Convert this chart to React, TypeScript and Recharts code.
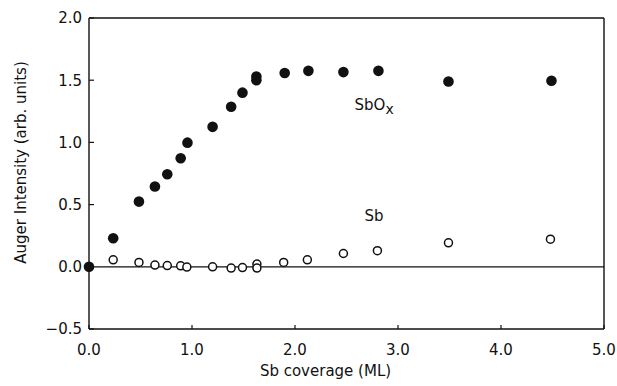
import React from 'react';
import { ScatterChart, Scatter, XAxis, YAxis, ReferenceLine, ReferenceDot } from 'recharts';

const xTicks = [0, 1, 2, 3, 4, 5];
const yTicks = [-0.5, 0, 0.5, 1, 1.5, 2];

const sbOxCoverage = [0, 0.235, 0.485, 0.64, 0.76, 0.89, 0.956, 1.2, 1.38, 1.49, 1.625, 1.625, 1.9, 2.13, 2.47, 2.81, 3.49, 4.49];
const sbOxIntensity = [0, 0.23, 0.524, 0.645, 0.744, 0.872, 0.998, 1.125, 1.287, 1.4, 1.5, 1.53, 1.558, 1.575, 1.565, 1.575, 1.49, 1.495];

const sbCoverage = [0.235, 0.485, 0.64, 0.76, 0.89, 0.95, 1.2, 1.38, 1.49, 1.63, 1.63, 1.89, 2.12, 2.47, 2.8, 3.49, 4.48];
const sbIntensity = [0.056, 0.035, 0.014, 0.01, 0.008, -0.002, 0.0, -0.01, -0.006, 0.022, -0.01, 0.035, 0.056, 0.107, 0.13, 0.193, 0.222];

const sbOxData = sbOxCoverage.map((x, i) => ({ x, y: sbOxIntensity[i] }));
const sbData = sbCoverage.map((x, i) => ({ x, y: sbIntensity[i] }));

const FONT = '"DejaVu Sans", sans-serif';
const INK = '#111';

const fmt = (v: number) => v.toFixed(1).replace('-', '\u2212');

const FilledDot = (p: any) => <circle cx={p.cx} cy={p.cy} r={5.3} fill={INK} />;
const OpenDot = (p: any) => <circle cx={p.cx} cy={p.cy} r={4} fill="#fff" stroke={INK} strokeWidth={1.5} />;

export default function App() {
  return (
    <div style={{ position: 'absolute', left: 0, top: 0, width: 617, height: 386, background: '#fff' }}>
      <ScatterChart width={617} height={386} margin={{ top: 14, right: 3, bottom: 27, left: 10 }}>
        <XAxis
          xAxisId="top"
          orientation="top"
          type="number"
          dataKey="x"
          domain={[0, 5]}
          ticks={xTicks}
          height={4}
          tick={false}
          tickSize={-4}
          axisLine={{ stroke: INK, strokeWidth: 1.4 }}
          tickLine={{ stroke: INK, strokeWidth: 1.2 }}
        />
        <XAxis
          xAxisId="bottom"
          orientation="bottom"
          type="number"
          dataKey="x"
          domain={[0, 5]}
          ticks={xTicks}
          height={30}
          tickFormatter={fmt}
          tickSize={-4}
          tickMargin={19}
          axisLine={{ stroke: INK, strokeWidth: 1.4 }}
          tickLine={{ stroke: INK, strokeWidth: 1.2 }}
          tick={{ fill: INK, fontFamily: FONT, fontSize: 15 }}
          label={{
            content: (props: any) => {
              const vb = props.viewBox;
              return (
                <text x={vb.x + vb.width / 2 - 21} y={vb.y + 47} textAnchor="middle" fill={INK} fontFamily={FONT} fontSize={15}>
                  Sb coverage (ML)
                </text>
              );
            },
          }}
        />
        <YAxis
          yAxisId="left"
          orientation="left"
          type="number"
          dataKey="y"
          domain={[-0.5, 2]}
          ticks={yTicks}
          width={79}
          tickFormatter={fmt}
          tickSize={-5}
          tickMargin={12}
          axisLine={{ stroke: INK, strokeWidth: 1.4 }}
          tickLine={{ stroke: INK, strokeWidth: 1.2 }}
          tick={{ fill: INK, fontFamily: FONT, fontSize: 15 }}
          label={{
            content: (props: any) => {
              const vb = props.viewBox;
              const cx = 21;
              const cy = vb.y + vb.height / 2 - 11;
              return (
                <text
                  x={cx}
                  y={cy}
                  transform={`rotate(-90 ${cx} ${cy})`}
                  textAnchor="middle"
                  dominantBaseline="central"
                  fill={INK}
                  fontFamily={FONT}
                  fontSize={15}
                >
                  Auger Intensity (arb. units)
                </text>
              );
            },
          }}
        />
        <YAxis
          yAxisId="right"
          orientation="right"
          type="number"
          dataKey="y"
          domain={[-0.5, 2]}
          ticks={yTicks}
          width={10}
          tick={false}
          tickSize={-5}
          axisLine={{ stroke: INK, strokeWidth: 1.4 }}
          tickLine={{ stroke: INK, strokeWidth: 1.2 }}
        />
        <ReferenceLine xAxisId="bottom" yAxisId="left" y={0} stroke={INK} strokeWidth={1.3} />
        <Scatter
          name="Sb"
          data={sbData}
          xAxisId="bottom"
          yAxisId="left"
          shape={OpenDot}
          isAnimationActive={false}
        />
        <Scatter
          name="SbOx"
          data={sbOxData}
          xAxisId="bottom"
          yAxisId="left"
          shape={FilledDot}
          isAnimationActive={false}
        />
        <ReferenceDot
          xAxisId="bottom"
          yAxisId="left"
          x={2.578}
          y={1.26}
          r={0}
          fill="none"
          stroke="none"
          ifOverflow="visible"
          label={{
            content: (props: any) => {
              const vb = props.viewBox;
              return (
                <text x={vb.x} y={vb.y} fill={INK} fontFamily={FONT} fontSize={15}>
                  SbO
                  <tspan dy={3.5} fontSize={14}>x</tspan>
                </text>
              );
            },
          }}
        />
        <ReferenceDot
          xAxisId="bottom"
          yAxisId="left"
          x={2.674}
          y={0.365}
          r={0}
          fill="none"
          stroke="none"
          ifOverflow="visible"
          label={{
            content: (props: any) => {
              const vb = props.viewBox;
              return (
                <text x={vb.x} y={vb.y} fill={INK} fontFamily={FONT} fontSize={15}>
                  Sb
                </text>
              );
            },
          }}
        />
      </ScatterChart>
    </div>
  );
}
